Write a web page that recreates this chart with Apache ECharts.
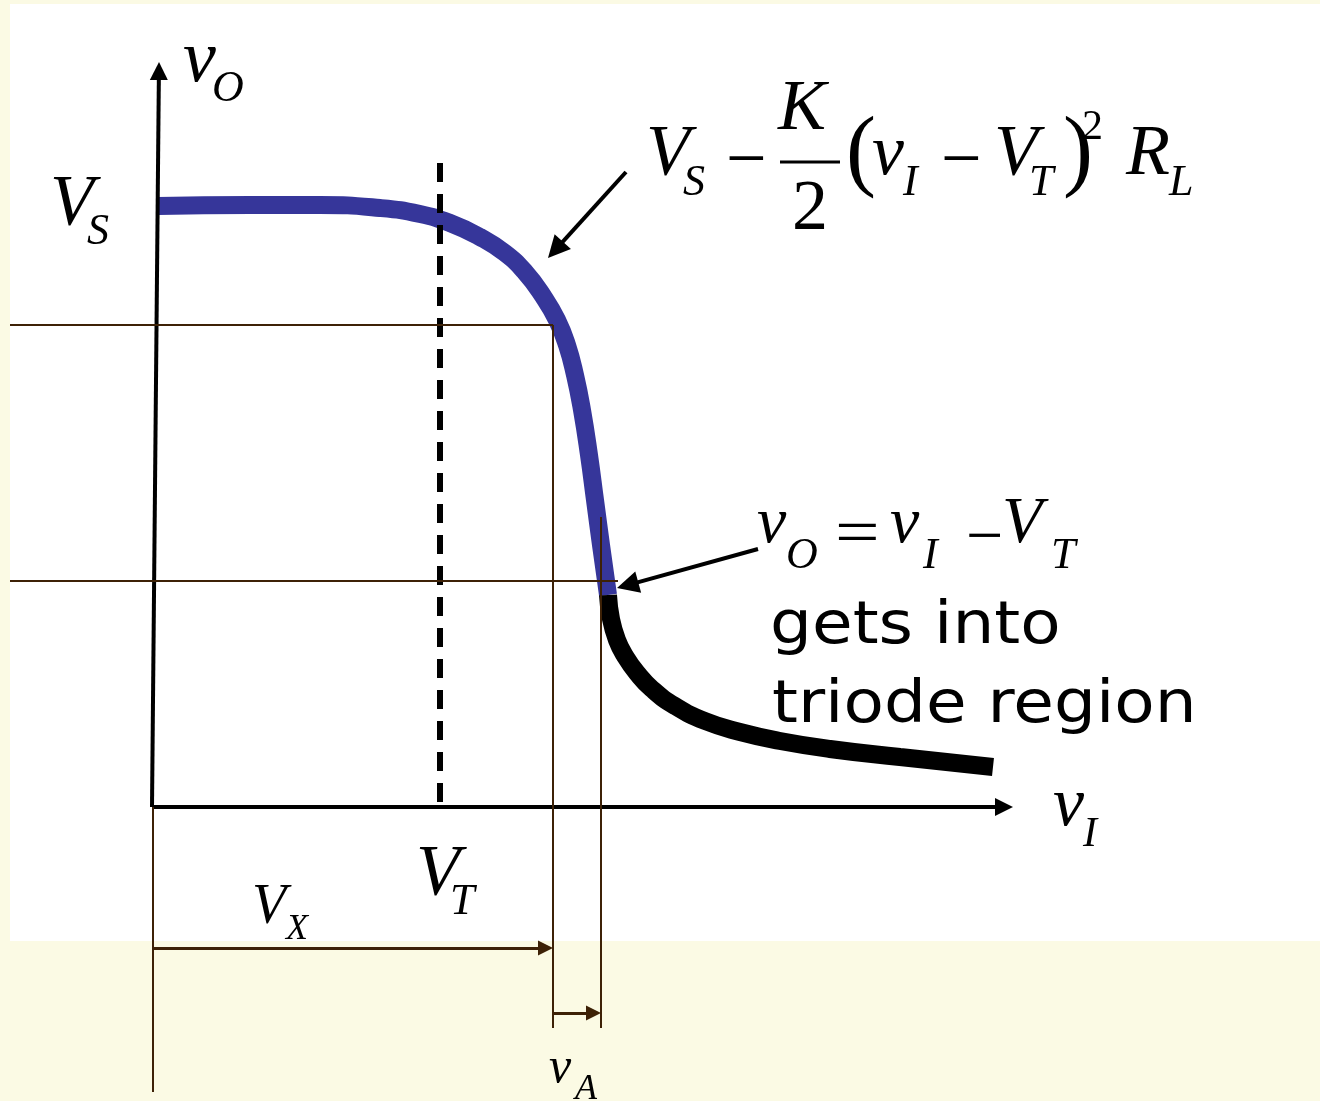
<!DOCTYPE html>
<html>
<head>
<meta charset="utf-8">
<script src="https://cdn.jsdelivr.net/npm/echarts@6/dist/echarts.min.js"></script>
<style>
  html, body { margin: 0; padding: 0; background: #fbfae4; }
  #chart { width: 1320px; height: 1101px; }
</style>
</head>
<body>
<div id="chart"></div>
<script>
// Voltage transfer curve of a common-source amplifier (vO versus vI).
// Drawing units: the origin sits at the axis corner, one unit = 100 px.

// Key voltages
const VS = 6.01;        // supply level, flat part of the curve
const VT = 2.88;        // threshold voltage
const VX = 4.01;        // input where vO reaches the upper guide level
const VXA = 4.49;       // VX + vA, edge of saturation
const VO_UPPER = 4.82;  // upper horizontal guide
const VO_EDGE = 2.26;   // vO = vI - VT guide

// Saturation branch: VS - K/2 (vI - VT)^2 RL
const satX = [0.06, 0.98, 1.68, 2.28, 2.68, 2.98, 3.28, 3.53, 3.73, 3.91, 4.05, 4.15, 4.23, 4.30, 4.37, 4.43, 4.49, 4.56];
const satY = [6.01, 6.02, 6.02, 5.99, 5.93, 5.84, 5.70, 5.54, 5.35, 5.11, 4.87, 4.62, 4.32, 3.97, 3.52, 3.07, 2.62, 2.12];

// Triode branch
const triX = [4.56, 4.59, 4.65, 4.73, 4.85, 5.00, 5.23, 5.53, 5.88, 6.28, 6.78, 7.48, 8.41];
const triY = [2.12, 1.88, 1.67, 1.51, 1.34, 1.18, 1.01, 0.86, 0.75, 0.66, 0.58, 0.50, 0.40];

// Axis ends (arrow tips)
const yAxisTip = [0.07, 7.45];
const xAxisTip = [8.61, 0];
const vtTop = 6.44;

// Pointer arrows: [tail, tip]
const pointerSat = [[4.74, 6.35], [3.96, 5.49]];
const pointerEdge = [[6.06, 2.58], [4.65, 2.19]];

// Guide extents
const guideLeft = -1.42;
const guideBottom = -2.21;
const originGuideBottom = -2.85;
const edgeGuideTop = 2.90;
const edgeGuideRight = 4.66;
const vxArrowY = -1.41;
const vaArrowY = -2.06;

const X_MIN = -1.52, X_MAX = 11.68, Y_MIN = -2.94, Y_MAX = 8.07;
const W = 1320, H = 1101;
const PX = W / (X_MAX - X_MIN);

const zip = (xs, ys) => xs.map((x, i) => [x, ys[i]]);

// move a point back from the tip so a centred triangle head ends on the tip
function headEnd(tail, tip, headPx) {
  const dx = tip[0] - tail[0], dy = tip[1] - tail[1];
  const len = Math.hypot(dx, dy);
  const s = headPx / 2 / PX / len;
  return [tip[0] - dx * s, tip[1] - dy * s];
}

const BROWN = '#3d2106';

const chart = echarts.init(document.getElementById('chart'), null, { renderer: 'canvas' });

// distance from the canvas "middle" line to the alphabetic baseline, in em
const MID = 0.35;
function glyph(text, x, base, size, opts) {
  opts = opts || {};
  const family = opts.family || '"Liberation Serif"';
  const italic = opts.italic === false ? '' : 'italic ';
  return {
    type: 'text', x: x, y: base - (opts.mid || MID) * size, z: 20, silent: true,
    scaleX: opts.sx || 1,
    style: {
      text: text, fill: '#000',
      font: italic + size + 'px ' + family,
      align: 'left', verticalAlign: 'middle',
      textAlign: 'left', textVerticalAlign: 'middle'
    }
  };
}
const up = { italic: false };
const note = { italic: false, family: '"DejaVu Sans"', sx: 1.14 };

const texts = [
  // vO axis title
  glyph('v', 183, 87, 74), glyph('O', 212, 105, 44),
  // VS
  glyph('V', 50, 230, 72), glyph('S', 87, 248, 44),
  // VS - K/2 (vI - VT)^2 RL
  glyph('V', 646, 180, 72), glyph('S', 683, 199, 44),
  glyph('\u2212', 726, 188, 72, up),
  glyph('K', 778, 135, 72),
  glyph('2', 792, 235, 72, up),
  glyph('(', 846, 187, 90, up),
  glyph('v', 872, 180, 72), glyph('I', 903, 199, 44),
  glyph('\u2212', 941, 188, 72, up),
  glyph('V', 994, 180, 72), glyph('T', 1029, 199, 44),
  glyph(')', 1063, 187, 90, up),
  glyph('2', 1082, 143, 42, up),
  glyph('R', 1126, 180, 72), glyph('L', 1169, 199, 44),
  // vO = vI - VT
  glyph('v', 757, 548, 66), glyph('O', 786, 572, 44),
  glyph('=', 835, 560, 66, { italic: false, sx: 1.2 }),
  glyph('v', 890, 548, 66), glyph('I', 923, 572, 44),
  glyph('\u2212', 966, 563, 66, up),
  glyph('V', 1002, 548, 66), glyph('T', 1051, 572, 44),
  // note
  glyph('gets into', 770, 648, 58, note),
  glyph('triode region', 772, 727, 58, note),
  // VT, VX, vI, vA
  glyph('V', 416, 900, 72), glyph('T', 450, 918, 44),
  glyph('V', 252, 928, 56), glyph('X', 286, 942, 36),
  glyph('v', 1053, 831, 70), glyph('I', 1083, 850, 42),
  glyph('v', 549, 1086, 50), glyph('A', 575, 1102, 36)
];

const option = {
  backgroundColor: '#fbfae4',
  animation: false,
  grid: { left: 0, right: 0, top: 0, bottom: 0, containLabel: false },
  xAxis: { type: 'value', min: X_MIN, max: X_MAX, show: false },
  yAxis: { type: 'value', min: Y_MIN, max: Y_MAX, show: false },
  graphic: [
    { type: 'rect', shape: { x: 10, y: 4, width: 1310, height: 937 }, style: { fill: '#ffffff' }, z: -10, silent: true },
    // fraction bar of K/2
    { type: 'line', shape: { x1: 780, y1: 162, x2: 840, y2: 162 }, style: { stroke: '#000', lineWidth: 3 }, z: 20, silent: true }
  ].concat(texts),
  series: [
    {
      type: 'line', name: 'saturation', data: zip(satX, satY), smooth: 0.5,
      showSymbol: false, silent: true, z: 3,
      lineStyle: { color: '#36369a', width: 18, cap: 'butt', join: 'round' }
    },
    {
      type: 'line', name: 'triode', data: zip(triX, triY), smooth: 0.5,
      showSymbol: false, silent: true, z: 3,
      lineStyle: { color: '#000000', width: 18, cap: 'butt', join: 'round' }
    },
    // threshold marker
    {
      type: 'lines', coordinateSystem: 'cartesian2d', silent: true, z: 4,
      lineStyle: { color: '#000', width: 6, type: [19, 12], cap: 'butt', opacity: 1 },
      data: [{ coords: [[VT, vtTop], [VT, 0]] }]
    },
    // axes
    {
      type: 'lines', coordinateSystem: 'cartesian2d', silent: true, z: 5,
      symbol: ['none', 'triangle'], symbolSize: 18,
      lineStyle: { color: '#000', width: 4, opacity: 1 },
      data: [
        { coords: [[0, 0], headEnd([0, 0], yAxisTip, 18)] },
        { coords: [[0, 0], headEnd([0, 0], xAxisTip, 18)] }
      ]
    },
    // pointer arrows
    {
      type: 'lines', coordinateSystem: 'cartesian2d', silent: true, z: 6,
      symbol: ['none', 'triangle'], symbolSize: 22,
      lineStyle: { color: '#000', width: 4, opacity: 1 },
      data: [
        { coords: [pointerSat[0], headEnd(pointerSat[0], pointerSat[1], 22)] },
        { coords: [pointerEdge[0], headEnd(pointerEdge[0], pointerEdge[1], 22)] }
      ]
    },
    // guide lines
    {
      type: 'lines', coordinateSystem: 'cartesian2d', silent: true, z: 7,
      lineStyle: { color: BROWN, width: 2, opacity: 1 },
      data: [
        { coords: [[guideLeft, VO_UPPER], [VX, VO_UPPER]] },
        { coords: [[VX, VO_UPPER], [VX, guideBottom]] },
        { coords: [[guideLeft, VO_EDGE], [edgeGuideRight, VO_EDGE]] },
        { coords: [[VXA, edgeGuideTop], [VXA, guideBottom]] },
        { coords: [[0.01, 0], [0.01, originGuideBottom]] }
      ]
    },
    // dimension arrows for VX and vA
    {
      type: 'lines', coordinateSystem: 'cartesian2d', silent: true, z: 7,
      symbol: ['none', 'triangle'], symbolSize: 15,
      lineStyle: { color: BROWN, width: 3, opacity: 1 },
      data: [
        { coords: [[0.01, vxArrowY], headEnd([0.01, vxArrowY], [VX, vxArrowY], 15)] },
        { coords: [[VX, vaArrowY], headEnd([VX, vaArrowY], [VXA, vaArrowY], 15)] }
      ]
    }
  ]
};

chart.setOption(option);
</script>
</body>
</html>
